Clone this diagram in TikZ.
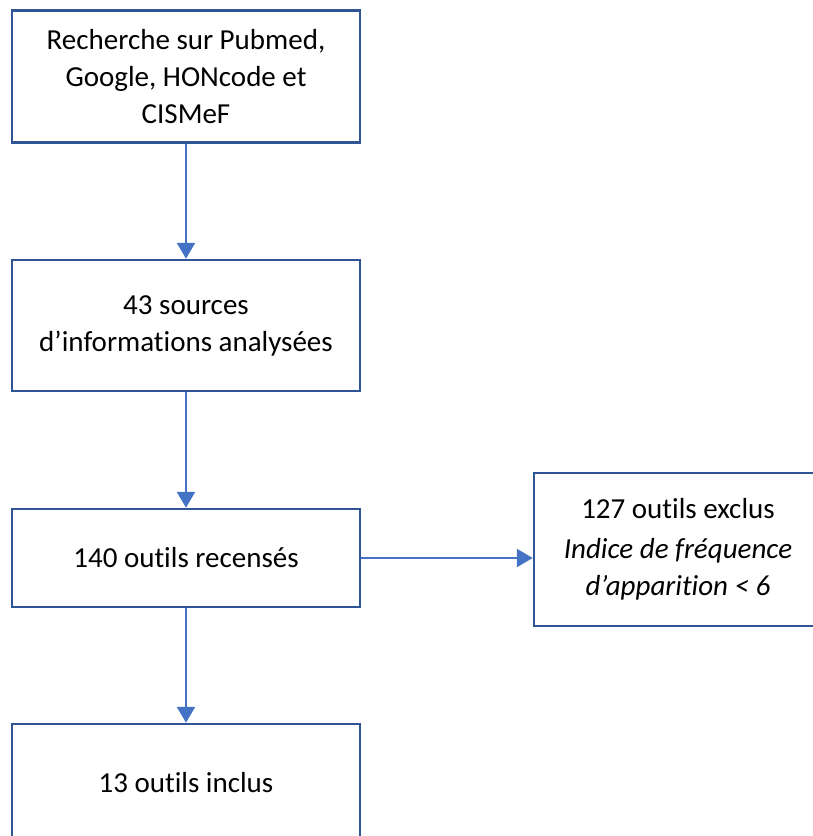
\documentclass[tikz,border=0pt]{standalone}
\usepackage{fontspec}
\setmainfont{Carlito}[RawFeature={-liga;-clig;-calt;-dlig}]
\usepackage{xcolor}
\usetikzlibrary{arrows.meta}
\definecolor{boxline}{HTML}{2F5597}
\definecolor{arrowline}{HTML}{4472C4}

\begin{document}
\begin{tikzpicture}[inner sep=0pt,
  box/.style={shape=rectangle, draw=boxline, fill=white, line width=2.5pt, align=center, font=\fontsize{29}{37}\selectfont},
  link/.style={-{Triangle[length=16pt,width=18pt]}, line width=2.5pt, draw=arrowline}]
\useasboundingbox (0pt,0pt) rectangle (813pt,-836pt);
\node (n0) [minimum width=348pt, minimum height=132pt, at={(186pt,-76.5pt)}, box] {Recherche sur Pubmed,\\Google, HONcode et\\CISMeF};
\node (n1) [minimum width=348pt, minimum height=131pt, at={(186pt,-325.5pt)}, box] {43 sources\\d’informations analysées};
\node (n2) [minimum width=348pt, minimum height=98pt, at={(186pt,-558pt)}, box] {140 outils recensés};
\node (n3) [minimum width=348pt, minimum height=118pt, at={(186pt,-783pt)}, box] {13 outils inclus};
\node (n4) [minimum width=288pt, minimum height=153pt, at={(678pt,-549.5pt)}, box] {127 outils exclus\\[3pt]\textit{Indice de fréquence}\\\textit{d’apparition < 6}};

\path [link] (n0)--(n1);

\path [link] (n1)--(n2);

\path [link] (n2)--(n3);

\path [link] (n2.east)--(n2.east -| n4.west);
\end{tikzpicture}
\end{document}
